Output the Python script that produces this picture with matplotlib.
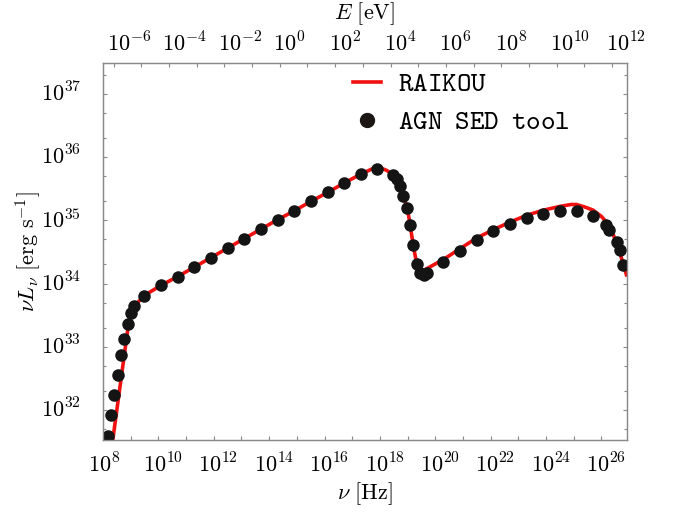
import numpy as np
import matplotlib
matplotlib.use('Agg')
import matplotlib.pyplot as plt
import matplotlib.transforms as mtransforms
from matplotlib.lines import Line2D
from matplotlib.ticker import FixedLocator, NullFormatter, NullLocator

plt.rcParams['mathtext.fontset'] = 'cm'
plt.rcParams['font.family'] = 'DejaVu Serif'

H_EV = 4.135667696e-15   # Planck constant [eV s]

# RAIKOU model SED: log10(nu / Hz), log10(nu L_nu / erg s^-1)
model_lognu = [8.33, 8.91, 9.01, 9.13, 9.49, 10.09, 10.70, 11.30, 11.90, 12.50,
               13.10, 13.70, 14.31, 14.91, 15.51, 16.11, 16.71, 17.31, 17.90,
               18.24, 18.49, 18.61, 18.71, 18.83, 18.99, 19.09, 19.20, 19.33,
               19.45, 19.56, 19.71, 20.29, 20.89, 21.49, 22.09, 22.69, 23.30,
               23.90, 24.50, 24.90, 25.10, 25.40, 25.70, 26.00, 26.30, 26.60,
               26.92]
model_logL = [31.45, 33.32, 33.50, 33.64, 33.81, 33.97, 34.11, 34.26, 34.41, 34.56,
              34.71, 34.86, 35.01, 35.15, 35.30, 35.44, 35.59, 35.73, 35.85,
              35.79, 35.72, 35.66, 35.54, 35.39, 35.19, 34.93, 34.61, 34.31,
              34.19, 34.20, 34.24, 34.38, 34.55, 34.72, 34.85, 34.97, 35.08,
              35.16, 35.22, 35.25, 35.25, 35.21, 35.16, 35.06, 34.91, 34.58,
              34.11]

# AGN SED tool points
sed_lognu = [8.19, 8.29, 8.41, 8.55, 8.65, 8.77, 8.89, 9.01, 9.13, 9.49,
             10.09, 10.70, 11.30, 11.90, 12.50, 13.10, 13.70, 14.31, 14.91,
             15.51, 16.11, 16.71, 17.31, 17.90, 18.49, 18.61, 18.71, 18.83,
             18.99, 19.09, 19.20, 19.33, 19.45, 19.59, 19.71, 20.29, 20.89,
             21.49, 22.09, 22.69, 23.30, 23.90, 24.50, 25.10, 25.70, 26.16,
             26.28, 26.55, 26.67, 26.79]
sed_logL = [31.59, 31.92, 32.24, 32.56, 32.87, 33.13, 33.36, 33.53, 33.65, 33.81,
            33.97, 34.11, 34.26, 34.41, 34.56, 34.71, 34.86, 35.01, 35.15,
            35.30, 35.44, 35.59, 35.73, 35.81, 35.72, 35.66, 35.54, 35.39,
            35.19, 34.93, 34.61, 34.31, 34.16, 34.14, 34.17, 34.34, 34.52,
            34.69, 34.83, 34.94, 35.04, 35.10, 35.14, 35.14, 35.07, 34.93,
            34.85, 34.66, 34.53, 34.29]

nu_decades = list(range(8, 27))
nu_labelled = list(range(8, 27, 2))
e_decades = list(range(-6, 13))
e_labelled = list(range(-6, 13, 2))
L_decades = list(range(32, 38))

XLIM = (10**8.0, 10**26.92)
YLIM = (10**31.525, 10**37.48)
FS = 16
GREY = '#8a8a8a'

fig = plt.figure(figsize=(6.73, 5.15), dpi=100)
ax = fig.add_axes([0.153, 0.1456, 0.7786, 0.7311])


def shift(dx, dy):
    # offset in pixels
    return mtransforms.ScaledTranslation(dx / 100, dy / 100, fig.dpi_scale_trans)


ax.plot(10**np.array(model_lognu), 10**np.array(model_logL),
        color='#f01010', lw=2.6, zorder=2, solid_capstyle='butt')
ax.plot(10**np.array(sed_lognu), 10**np.array(sed_logL), ls='none',
        marker='o', ms=8, color='#141414', zorder=3)

ax.set_xscale('log')
ax.set_yscale('log')
ax.set_xlim(*XLIM)
ax.set_ylim(*YLIM)

ax.xaxis.set_major_locator(FixedLocator([10.0**e for e in nu_decades]))
ax.xaxis.set_minor_locator(NullLocator())
ax.yaxis.set_major_locator(FixedLocator([10.0**e for e in L_decades]))
ax.yaxis.set_minor_locator(FixedLocator([m * 10.0**e for e in range(31, 38)
                                         for m in (2, 5)]))
ax.xaxis.set_major_formatter(NullFormatter())
ax.yaxis.set_major_formatter(NullFormatter())
ax.yaxis.set_minor_formatter(NullFormatter())
ax.tick_params(which='both', direction='in', top=False, right=True,
               color=GREY, width=0.8)
ax.tick_params(which='major', length=3.2)
ax.tick_params(which='minor', length=2.0)

# photon energy axis on top
ax2 = ax.twiny()
ax2.set_xscale('log')
ax2.set_xlim(XLIM[0] * H_EV, XLIM[1] * H_EV)
ax2.xaxis.set_major_locator(FixedLocator([10.0**e for e in e_decades]))
ax2.xaxis.set_minor_locator(NullLocator())
ax2.xaxis.set_major_formatter(NullFormatter())
ax2.tick_params(which='major', direction='in', length=3.2, color=GREY, width=0.8)

for a in (ax, ax2):
    for sp in a.spines.values():
        sp.set_color(GREY)
        sp.set_linewidth(0.9)

# tick labels, the "10" base sitting on the tick
tb = mtransforms.blended_transform_factory(ax.transData, ax.transAxes)
for e in nu_labelled:
    ax.text(10.0**e, 0, rf'$10^{{{e}}}$', transform=tb + shift(-15.3, -13),
            ha='left', va='top', fontsize=FS)
tt = mtransforms.blended_transform_factory(ax2.transData, ax2.transAxes)
for e in e_labelled:
    ax2.text(10.0**e, 1, rf'$10^{{{e}}}$', transform=tt + shift(-6.5, 11.8),
             ha='left', va='baseline', fontsize=FS)
tl = mtransforms.blended_transform_factory(ax.transAxes, ax.transData)
for e in L_decades:
    ax.text(0, 10.0**e, rf'$10^{{{e}}}$', transform=tl + shift(-21.5, -7.7),
            ha='right', va='baseline', fontsize=FS)

ax.text(0.5, -0.143, r'$\nu\ [\mathrm{Hz}]$', transform=ax.transAxes,
        ha='center', va='center', fontsize=FS)
ax.text(0.5, 1.0, r'$E\ [\mathrm{eV}]$', transform=ax.transAxes + shift(0, 50),
        ha='center', va='center', fontsize=FS)
ax.text(-0.143, 0.5, r'$\nu L_\nu\ [\mathrm{erg\ s^{-1}}]$', transform=ax.transAxes,
        ha='center', va='center', rotation=90, fontsize=FS)

handles = [Line2D([], [], color='#f01010', lw=2.6),
           Line2D([], [], ls='none', marker='o', ms=10, color='#1c1614')]
labels = [r'$\mathtt{RAIKOU}$',
          r'$\mathtt{AGN}\hspace{0.525}\mathtt{SED}\hspace{0.525}\mathtt{tool}$']
ax.legend(handles, labels,
          loc='upper left', bbox_to_anchor=(0.4765, 0.982), frameon=False,
          fontsize=20, handlelength=1.02, handletextpad=0.6,
          labelspacing=0.4, borderpad=0, borderaxespad=0)

fig.savefig('out.png', dpi=100)
